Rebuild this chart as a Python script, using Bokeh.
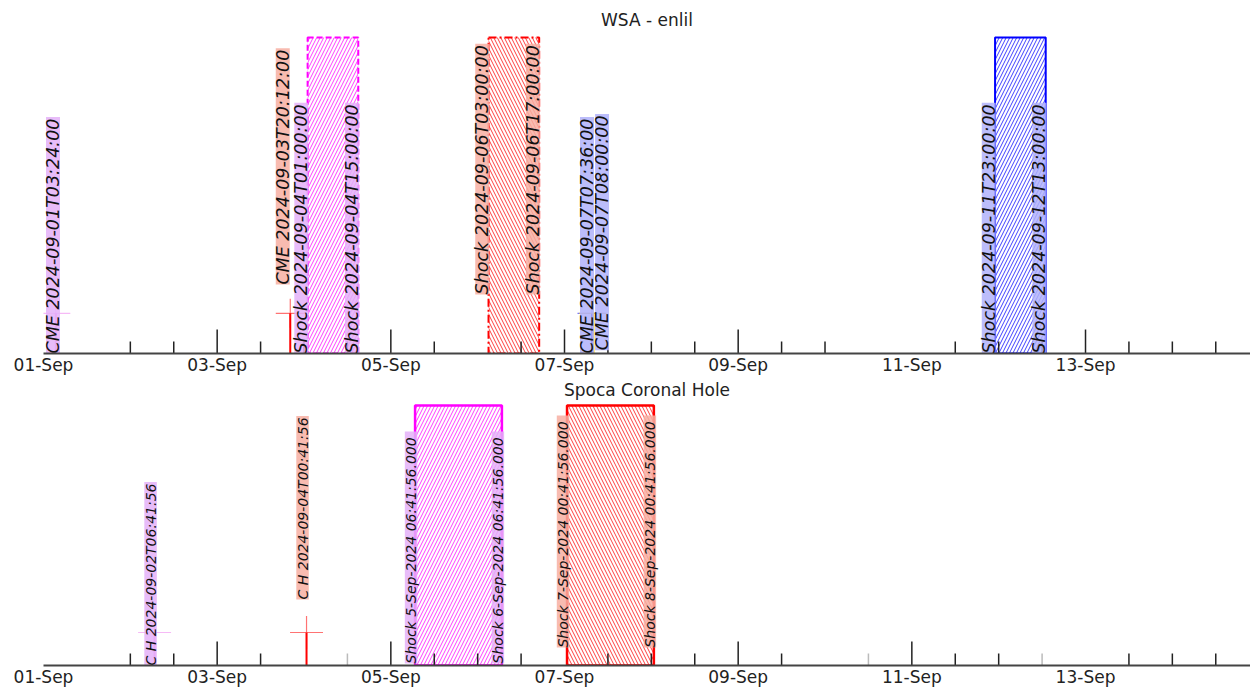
import pandas as pd
from math import pi
from bokeh.plotting import figure
from bokeh.layouts import column
from bokeh.models import ColumnDataSource, FixedTicker, DatetimeTickFormatter, Range1d
from bokeh.core.properties import value
from bokeh.embed import file_html
from bokeh.resources import INLINE

# ---------------- data: WSA - enlil ----------------
wsa_cme_times = ["2024-09-01T03:24:00", "2024-09-03T20:12:00",
                 "2024-09-07T07:36:00", "2024-09-07T08:00:00"]
wsa_cme_labels = ["CME " + t for t in wsa_cme_times]
wsa_shock_start = ["2024-09-04T01:00:00", "2024-09-06T03:00:00", "2024-09-11T23:00:00"]
wsa_shock_end = ["2024-09-04T15:00:00", "2024-09-06T17:00:00", "2024-09-12T13:00:00"]
wsa_shock_start_labels = ["Shock " + t for t in wsa_shock_start]
wsa_shock_end_labels = ["Shock " + t for t in wsa_shock_end]

# ---------------- data: Spoca Coronal Hole ----------------
ch_times = ["2024-09-02T06:41:56", "2024-09-04T00:41:56"]
ch_labels = ["C H " + t for t in ch_times]
spoca_shock_start = ["2024-09-05T06:41:56", "2024-09-07T00:41:56"]
spoca_shock_end = ["2024-09-06T06:41:56", "2024-09-08T00:41:56"]
spoca_shock_start_labels = ["Shock  5-Sep-2024 06:41:56.000", "Shock  7-Sep-2024 00:41:56.000"]
spoca_shock_end_labels = ["Shock  6-Sep-2024 06:41:56.000", "Shock  8-Sep-2024 00:41:56.000"]

# ---------------- axis: labels and the tick marks seen in each panel ----------------
x_start, x_end = "2024-09-01T00:00:00", "2024-09-14T21:36:00"
label_dates = pd.date_range("2024-09-01", "2024-09-13", freq="2D")
top_major_ticks = ["2024-09-03T00", "2024-09-05T00", "2024-09-07T00", "2024-09-09T00",
                   "2024-09-13T00"]
top_minor_ticks = ["2024-09-02T00", "2024-09-02T12", "2024-09-03T12", "2024-09-04T00",
                   "2024-09-04T12", "2024-09-05T12", "2024-09-06T12", "2024-09-07T12",
                   "2024-09-08T00", "2024-09-08T12", "2024-09-09T12", "2024-09-10T00",
                   "2024-09-11T12", "2024-09-12T00", "2024-09-12T12", "2024-09-13T12",
                   "2024-09-14T00", "2024-09-14T12"]
bot_major_ticks = ["2024-09-03T00", "2024-09-05T00", "2024-09-09T00", "2024-09-11T00"]
bot_minor_ticks = ["2024-09-02T00", "2024-09-02T12", "2024-09-03T12", "2024-09-05T12",
                   "2024-09-06T00", "2024-09-06T12", "2024-09-07T12", "2024-09-08T00",
                   "2024-09-08T12", "2024-09-09T12", "2024-09-11T12", "2024-09-12T00",
                   "2024-09-13T12", "2024-09-14T00", "2024-09-14T12"]
bot_faint_ticks = ["2024-09-04T12", "2024-09-10T12", "2024-09-12T12"]

# ---------------- styles / layout ----------------
VIOLET_BG, SALMON_BG, BLUE_BG = "#E4B0F8", "#F7AFA2", "#B0B2FA"
FONT = value("DejaVu Sans")
FIG_W, BORDER_L = 1250, 43
FRAME_W = FIG_W - BORDER_L
MS_PER_PX = (pd.Timestamp(x_end) - pd.Timestamp(x_start)).total_seconds() * 1000 / FRAME_W

# approximate DejaVu Sans advance widths (em) used to size the label backgrounds
ADV = {d: 0.636 for d in "0123456789"}
ADV.update({" ": 0.318, "-": 0.361, ":": 0.337, ".": 0.318, "T": 0.611, "C": 0.698,
            "M": 0.863, "E": 0.632, "S": 0.635, "h": 0.634, "o": 0.612, "c": 0.55,
            "k": 0.579, "H": 0.752, "e": 0.615, "p": 0.635})


def to_dt(values):
    return [pd.Timestamp(v) for v in values]


def text_px(s, size):
    return sum(ADV.get(ch, 0.6) for ch in s) * size


def ms(ts):
    return [pd.Timestamp(t).value / 1e6 for t in ts]


def make_fig(title, height, border_top, title_standoff, label_standoff, y_end):
    p = figure(width=FIG_W, height=height, x_axis_type="datetime",
               output_backend="svg", toolbar_location=None,
               x_range=Range1d(pd.Timestamp(x_start), pd.Timestamp(x_end)),
               y_range=Range1d(0, y_end),
               min_border_left=BORDER_L, min_border_right=0, min_border_top=border_top,
               min_border_bottom=0, y_axis_location=None)
    p.title.text = title
    p.title.align = "center"
    p.title.text_font = "DejaVu Sans"
    p.title.text_font_size = "17px"
    p.title.text_font_style = "normal"
    p.title.text_color = "#222222"
    p.title.standoff = title_standoff
    p.outline_line_color = None
    p.grid.visible = False
    ax = p.xaxis[0]
    ax.ticker = FixedTicker(ticks=ms(label_dates), minor_ticks=[])
    fmt = "%d-%b"
    ax.formatter = DatetimeTickFormatter(days=fmt, months=fmt, hours=fmt, hourmin=fmt,
                                         minutes=fmt, years=fmt)
    ax.axis_line_color = "#444444"
    ax.axis_line_width = 2
    ax.major_tick_in = 0
    ax.major_tick_out = 0
    ax.minor_tick_in = 0
    ax.minor_tick_out = 0
    ax.major_tick_line_color = None
    ax.minor_tick_line_color = None
    ax.major_label_text_font = "DejaVu Sans"
    ax.major_label_text_font_size = "17px"
    ax.major_label_text_color = "#222222"
    ax.major_label_standoff = label_standoff
    return p


def draw_ticks(p, dates, length_px, frame_h, y_end, color="#222222"):
    d = to_dt(dates)
    src = ColumnDataSource(dict(x=d, y0=[0] * len(d), y1=[length_px * y_end / frame_h] * len(d)))
    p.segment(x0="x", y0="y0", x1="x", y1="y1", source=src, line_color=color, line_width=1.5)


def draw_labels(p, xs, ys, texts, bgs, xoffs, size, box_w, frame_h, y_end):
    """Rotated labels with a tight background box behind the text."""
    xs = to_dt(xs)
    dpp = y_end / frame_h
    left = [x + pd.Timedelta(milliseconds=(o - box_w / 2) * MS_PER_PX) for x, o in zip(xs, xoffs)]
    right = [x + pd.Timedelta(milliseconds=(o + box_w / 2) * MS_PER_PX) for x, o in zip(xs, xoffs)]
    top = [y + (text_px(t, size) + 1.5) * dpp for y, t in zip(ys, texts)]
    box = ColumnDataSource(dict(left=left, right=right, bottom=list(ys), top=top, bg=list(bgs)))
    p.quad(left="left", right="right", bottom="bottom", top="top", source=box,
           fill_color="bg", fill_alpha=0.85, line_color=None)
    lab = ColumnDataSource(dict(x=xs, y=list(ys), text=list(texts), xo=list(xoffs)))
    p.text(x="x", y="y", text="text", source=lab, angle=pi / 2, x_offset="xo",
           text_align="left", text_baseline="alphabetic", text_font=FONT,
           text_font_style="italic", text_font_size="%gpx" % size, text_color="#111111")


def draw_rects(p, starts, ends, line_colors, dashes, hatches, lw):
    for i in range(len(starts)):
        sub = ColumnDataSource(dict(left=to_dt([starts[i]]), right=to_dt([ends[i]])))
        p.quad(left="left", right="right", bottom=0, top=1, source=sub,
               fill_color=None, line_color=line_colors[i], line_width=lw,
               line_dash=dashes[i], hatch_pattern=hatches[i], hatch_color=line_colors[i],
               hatch_scale=7, hatch_weight=1, hatch_alpha=0.75)


def draw_points(p, times, cross_colors, cross_y, cross_size):
    t = to_dt(times)
    for i in range(len(times)):
        seg = ColumnDataSource(dict(x=[t[i]], y0=[0], y1=[cross_y]))
        p.segment(x0="x", y0="y0", x1="x", y1="y1", source=seg,
                  line_color=cross_colors[i], line_width=2)
        p.scatter(x="x", y="y1", source=seg, marker="cross", size=cross_size,
                  line_color=cross_colors[i], line_alpha=0.55, line_width=1.2)


# ---------------- top panel ----------------
TOP_FRAME_H, TOP_YEND = 318, 1.0063
p1 = make_fig("WSA - enlil", 377, 35, 11, 1, TOP_YEND)
draw_rects(p1, wsa_shock_start, wsa_shock_end, ["magenta", "red", "blue"],
           ["6 3", "8 3 2 3", "solid"], ["/", "\\", "/"], 2)
draw_ticks(p1, top_minor_ticks, 12, TOP_FRAME_H, TOP_YEND)
draw_ticks(p1, top_major_ticks, 24, TOP_FRAME_H, TOP_YEND)
draw_points(p1, wsa_cme_times, ["violet", "red", "blue", "gold"], 0.127, 29)
draw_labels(p1, wsa_shock_start + wsa_shock_end, [0, 0.187, 0] * 2,
            wsa_shock_start_labels + wsa_shock_end_labels, [VIOLET_BG, SALMON_BG, BLUE_BG] * 2,
            [-6.3] * 6, 17.5, 14, TOP_FRAME_H, TOP_YEND)
draw_labels(p1, wsa_cme_times, [0, 0.218, 0, 0.01], wsa_cme_labels,
            [VIOLET_BG, SALMON_BG, BLUE_BG, BLUE_BG], [-2.8, -7.5, -5, 8.6],
            17.5, 14, TOP_FRAME_H, TOP_YEND)

# ---------------- bottom panel ----------------
BOT_FRAME_H, BOT_YEND = 262, 1.0077
p2 = make_fig("Spoca Coronal Hole", 316, 30, 8, 1, BOT_YEND)
p2.border_fill_alpha = 0
p2.margin = (-4, 0, 0, 0)
draw_rects(p2, spoca_shock_start, spoca_shock_end, ["magenta", "red"],
           ["solid", "solid"], ["/", "\\"], 2.5)
draw_ticks(p2, bot_minor_ticks, 12, BOT_FRAME_H, BOT_YEND)
draw_ticks(p2, bot_faint_ticks, 12, BOT_FRAME_H, BOT_YEND, color="#BBBBBB")
draw_ticks(p2, bot_major_ticks, 24, BOT_FRAME_H, BOT_YEND)
draw_points(p2, ch_times, ["violet", "red"], 0.127, 33)
draw_labels(p2, spoca_shock_start + spoca_shock_end, [0.008, 0.069] * 2,
            spoca_shock_start_labels + spoca_shock_end_labels, [VIOLET_BG, SALMON_BG] * 2,
            [-4] * 4, 14, 12.5, BOT_FRAME_H, BOT_YEND)
draw_labels(p2, ch_times, [0, 0.254], ch_labels, [VIOLET_BG, SALMON_BG], [-4, -4],
            14, 12.5, BOT_FRAME_H, BOT_YEND)

layout = column(p1, p2)
open("out.html", "w").write(file_html(layout, INLINE))
